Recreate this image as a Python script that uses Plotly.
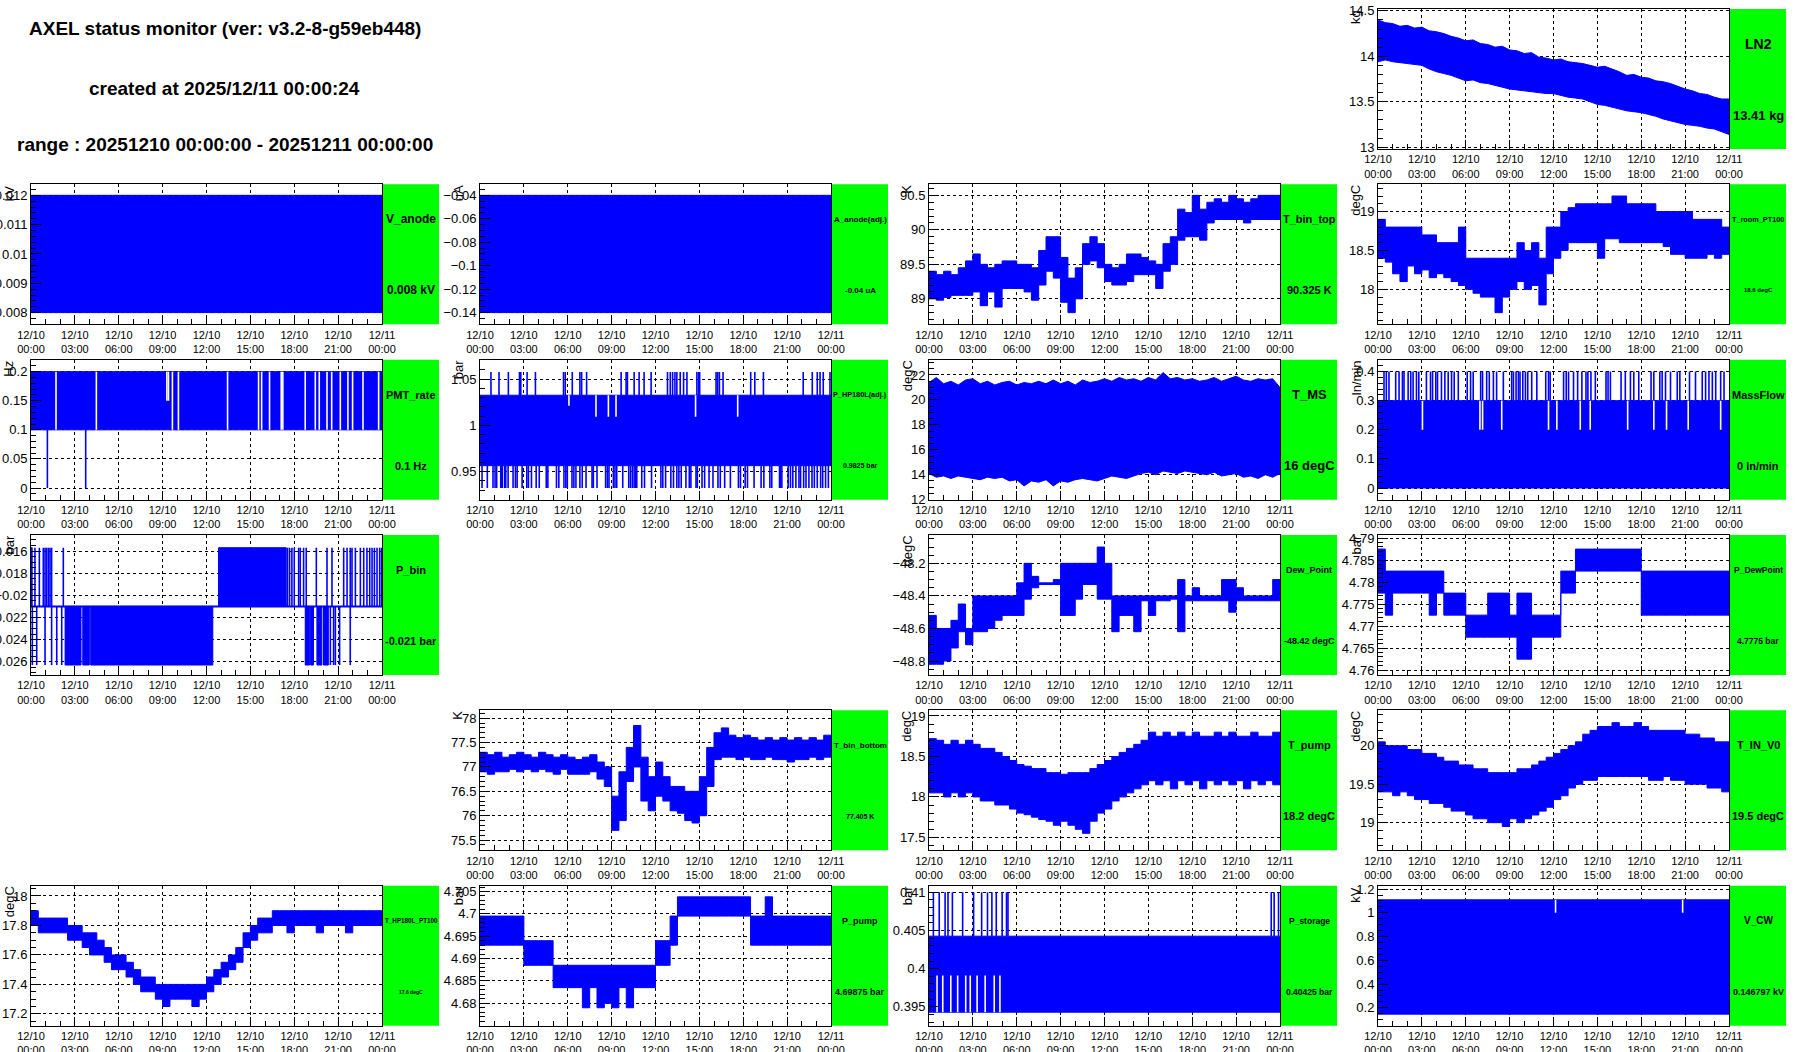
import plotly.graph_objects as go

W, H = 1796, 1052
COL_W = 449
ROW_H = H / 6
BLUE = "#0000ff"
GREEN = "#00ff00"
FONT = "Liberation Sans, Arial, Helvetica, sans-serif"

# ---------------- time axis ----------------
T_HALF = [h / 2 for h in range(49)]
X_TICKS = [0, 3, 6, 9, 12, 15, 18, 21, 24]
X_TICK_LABELS = ["12/10<br>00:00", "12/10<br>03:00", "12/10<br>06:00", "12/10<br>09:00",
                 "12/10<br>12:00", "12/10<br>15:00", "12/10<br>18:00", "12/10<br>21:00",
                 "12/11<br>00:00"]

TITLE_LINES = ["AXEL status monitor (ver: v3.2-8-g59eb448)",
               "created at 2025/12/11 00:00:24",
               "range : 20251210 00:00:00 - 20251211 00:00:00"]

# ---------------- data ----------------
ln2_hi = [14.40, 14.37, 14.36, 14.33, 14.34, 14.31, 14.32, 14.28, 14.27, 14.25,
          14.22, 14.20, 14.17, 14.18, 14.14, 14.13, 14.10, 14.11, 14.07, 14.06,
          14.03, 14.04, 13.99, 13.98, 13.96, 13.97, 13.94, 13.93, 13.92, 13.90,
          13.88, 13.89, 13.86, 13.83, 13.79, 13.80, 13.77, 13.76, 13.73, 13.72,
          13.70, 13.67, 13.64, 13.62, 13.59, 13.58, 13.55, 13.53, 13.53]
ln2_lo = [13.94, 13.96, 13.94, 13.93, 13.92, 13.91, 13.90, 13.86, 13.83, 13.81,
          13.79, 13.76, 13.73, 13.74, 13.71, 13.70, 13.68, 13.66, 13.64, 13.63,
          13.62, 13.61, 13.60, 13.59, 13.59, 13.57, 13.55, 13.54, 13.53, 13.50,
          13.47, 13.46, 13.44, 13.42, 13.40, 13.39, 13.38, 13.36, 13.34, 13.31,
          13.29, 13.27, 13.25, 13.24, 13.23, 13.21, 13.20, 13.17, 13.14]

v_anode_range = [0.008, 0.012]
a_anode_range = [-0.14, -0.04]

tbt_hi = [89.40, 89.35, 89.40, 89.35, 89.45, 89.55, 89.65, 89.50, 89.45, 89.50,
          89.55, 89.55, 89.50, 89.50, 89.45, 89.70, 89.90, 89.90, 89.60, 89.30,
          89.45, 89.80, 89.90, 89.80, 89.50, 89.45, 89.50, 89.65, 89.65, 89.60,
          89.55, 89.50, 89.80, 89.90, 90.30, 90.25, 90.50, 90.30, 90.40, 90.45,
          90.40, 90.50, 90.45, 90.40, 90.45, 90.50, 90.50, 90.50, 90.35]
tbt_lo = [89.00, 88.98, 89.02, 89.05, 89.05, 89.05, 89.10, 88.90, 89.10, 88.88,
          89.15, 89.15, 89.15, 89.10, 88.98, 89.20, 89.40, 89.30, 88.95, 88.80,
          89.00, 89.50, 89.55, 89.45, 89.25, 89.20, 89.20, 89.25, 89.35, 89.35,
          89.35, 89.15, 89.40, 89.50, 89.85, 89.90, 89.90, 89.85, 90.10, 90.15,
          90.15, 90.15, 90.15, 90.10, 90.15, 90.15, 90.15, 90.15, 90.15]

troom_hi = [18.90, 18.80, 18.80, 18.80, 18.80, 18.80, 18.70, 18.70, 18.60, 18.60,
            18.60, 18.80, 18.40, 18.40, 18.40, 18.40, 18.40, 18.40, 18.40, 18.60,
            18.50, 18.60, 18.40, 18.80, 18.80, 19.00, 19.05, 19.10, 19.10, 19.10,
            19.10, 19.10, 19.20, 19.20, 19.10, 19.10, 19.10, 19.10, 19.00, 19.00,
            19.00, 19.00, 19.00, 18.90, 18.90, 18.90, 18.90, 18.80, 18.80]
troom_lo = [18.40, 18.35, 18.20, 18.10, 18.30, 18.20, 18.25, 18.15, 18.20, 18.15,
            18.10, 18.05, 18.00, 17.95, 17.90, 17.90, 17.70, 17.90, 18.00, 18.10,
            18.00, 18.05, 17.80, 18.20, 18.40, 18.50, 18.60, 18.60, 18.60, 18.60,
            18.40, 18.65, 18.65, 18.60, 18.60, 18.60, 18.60, 18.60, 18.60, 18.55,
            18.45, 18.45, 18.40, 18.40, 18.40, 18.45, 18.40, 18.45, 18.45]

pmt_range = [0.1, 0.2]
pmt_gap_times = [1.71, 4.47, 9.67, 10.08, 13.44, 15.56, 15.77, 16.31, 17.11, 17.22,
                 18.75, 19.44, 19.71, 20.24, 20.56, 21.15, 21.67, 21.99, 22.70, 23.77]
pmt_half_gap_times = [9.29, 9.40]
pmt_zero_times = [1.12, 3.74]

php_range = [0.9565, 1.0325]
php_up_level = 1.0575
php_down_level = 0.9325
php_up_times = [0.75, 1.30, 1.94, 2.70, 2.79, 3.22, 3.79, 5.71, 5.83, 6.31, 6.83, 6.95,
                7.29, 9.65, 9.99, 10.08, 10.54, 10.88, 11.22, 11.70, 12.82, 13.01, 13.17,
                13.33, 13.46, 13.69, 13.92, 14.15, 14.83, 14.95, 15.02, 16.14, 16.25,
                16.37, 16.62, 18.51, 18.79, 19.38, 22.10, 22.72, 23.06, 23.25, 23.47, 23.93]
php_down_times = [0.14, 0.50, 0.89, 1.03, 1.14, 1.42, 1.49, 1.53, 1.69, 1.76, 1.92, 2.26,
                  2.42, 2.54, 2.88, 3.20, 3.31, 3.52, 3.84, 4.05, 4.53, 4.64, 5.23, 5.39,
                  5.74, 5.87, 5.97, 6.29, 6.42, 6.56, 6.83, 6.99, 7.25, 7.66, 7.75, 8.00,
                  8.59, 8.71, 8.82, 9.12, 9.23, 9.35, 9.76, 10.17, 10.29, 10.42, 10.54,
                  10.65, 10.72, 11.06, 11.25, 11.73, 12.37, 12.50, 12.69, 13.05, 13.23,
                  13.46, 13.60, 13.76, 14.08, 14.31, 14.42, 14.77, 14.86, 15.18, 15.36,
                  15.66, 15.93, 16.27, 16.43, 16.73, 17.12, 17.67, 17.81, 18.13, 18.29,
                  18.74, 19.22, 19.41, 19.82, 19.95, 20.48, 20.55, 20.64, 21.07, 21.23,
                  21.39, 21.60, 21.81, 21.92, 22.13, 22.29, 22.49, 22.70, 22.86, 23.06,
                  23.29, 23.43, 23.63, 23.82]
php_gap_times = [6.08, 7.93, 8.78, 9.30, 14.74, 17.62]
php_gap_depths = [1.0212, 1.0093, 1.0093, 1.0093, 1.0093, 1.0093]

tms_hi = [21.4, 21.8, 21.3, 21.5, 21.2, 21.6, 21.7, 21.3, 21.5, 21.2,
          21.4, 21.5, 21.2, 21.4, 21.3, 21.5, 21.3, 21.6, 21.3, 21.5,
          21.2, 21.6, 21.4, 21.5, 21.7, 21.5, 21.8, 21.6, 21.7, 21.5,
          21.8, 21.6, 22.2, 21.7, 21.8, 21.6, 21.7, 21.5, 21.6, 21.8,
          21.5, 21.7, 21.9, 21.6, 21.5, 21.7, 21.6, 21.7, 21.0]
tms_lo = [14.1, 13.8, 13.9, 13.7, 13.9, 13.8, 13.7, 13.6, 13.8, 13.7,
          13.8, 13.5, 13.6, 13.1, 13.5, 13.4, 13.6, 13.1, 13.5, 13.4,
          13.6, 13.7, 13.6, 13.5, 13.7, 13.9, 13.8, 13.7, 13.9, 14.1,
          14.2, 14.0, 14.3, 14.2, 14.1, 14.3, 14.2, 14.1, 14.0, 14.2,
          13.9, 14.0, 14.1, 13.8, 13.9, 13.7, 14.0, 13.8, 14.1]

mf_range = [0.0, 0.3]
mf_up_level = 0.4
mf_up_times = [0.41, 0.57, 0.75, 1.21, 1.44, 1.67, 1.78, 2.06, 2.24, 2.40, 2.63, 2.79,
               3.31, 3.59, 3.73, 3.95, 4.07, 4.34, 4.57, 4.80, 5.03, 5.21, 5.49, 6.10,
               6.33, 6.51, 7.02, 7.15, 7.43, 7.61, 7.89, 8.11, 8.57, 9.14, 9.26, 9.44,
               9.60, 9.71, 9.90, 10.08, 10.24, 10.51, 10.86, 11.47, 11.66, 11.77, 12.69,
               12.87, 13.03, 13.37, 13.65, 13.94, 14.22, 14.35, 14.56, 14.86, 15.59,
               15.73, 15.89, 16.62, 16.91, 17.26, 17.49, 17.83, 18.67, 18.86, 19.27,
               19.43, 19.66, 20.00, 20.46, 20.64, 21.30, 21.71, 22.17, 22.40, 22.63,
               22.86, 23.09, 23.43, 23.66]
mf_gap_level = 0.2
mf_gap_times = [3.04, 6.97, 7.15, 8.46, 11.66, 12.23, 13.83, 14.51, 17.07, 18.86, 19.73,
                21.21, 23.43]

pbin_levels = [-0.0263, -0.021, -0.0157]
pbin_up_blocks = [(0.0, 0.08), (12.82, 17.45)]
pbin_up_times = [0.27, 0.57, 0.84, 0.96, 1.07, 1.19, 1.30, 1.41, 2.21, 17.54, 17.68, 17.84,
                 18.00, 18.30, 18.41, 18.64, 18.82, 19.51, 20.24, 20.58, 21.38, 21.61,
                 21.83, 21.95, 22.18, 22.52, 22.75, 22.97, 23.16, 23.32, 23.48, 23.66,
                 23.84, 23.97]
pbin_down_blocks = [(2.33, 3.42), (3.54, 3.99), (4.08, 12.43), (18.75, 19.05),
                    (19.12, 19.32), (19.55, 19.89), (20.00, 20.33)]
pbin_down_times = [0.09, 0.39, 0.96, 1.41, 1.76, 2.10, 20.47, 20.69, 20.81, 21.10, 21.83]

dew_hi = [-48.52, -48.60, -48.60, -48.55, -48.45, -48.60, -48.40, -48.40, -48.40, -48.40,
          -48.40, -48.40, -48.32, -48.20, -48.28, -48.32, -48.32, -48.30, -48.20, -48.20,
          -48.20, -48.20, -48.20, -48.10, -48.20, -48.40, -48.40, -48.40, -48.40, -48.40,
          -48.40, -48.40, -48.40, -48.40, -48.30, -48.40, -48.35, -48.40, -48.40, -48.40,
          -48.30, -48.30, -48.35, -48.40, -48.40, -48.40, -48.40, -48.30, -48.40]
dew_lo = [-48.82, -48.82, -48.80, -48.72, -48.62, -48.70, -48.62, -48.62, -48.60, -48.55,
          -48.52, -48.52, -48.52, -48.42, -48.35, -48.33, -48.33, -48.33, -48.52, -48.52,
          -48.42, -48.33, -48.33, -48.42, -48.42, -48.62, -48.52, -48.52, -48.62, -48.43,
          -48.52, -48.43, -48.43, -48.42, -48.62, -48.43, -48.43, -48.43, -48.43, -48.43,
          -48.43, -48.50, -48.43, -48.43, -48.43, -48.43, -48.43, -48.43, -48.43]

pdew_hi = [4.7875, 4.7825, 4.7825, 4.7825, 4.7825, 4.7825, 4.7825, 4.7825, 4.7825, 4.7775,
           4.7775, 4.7775, 4.7725, 4.7725, 4.7725, 4.7775, 4.7775, 4.7775, 4.7725, 4.7775,
           4.7775, 4.7725, 4.7725, 4.7725, 4.7725, 4.7825, 4.7825, 4.7875, 4.7875, 4.7875,
           4.7875, 4.7875, 4.7875, 4.7875, 4.7875, 4.7875, 4.7825, 4.7825, 4.7825, 4.7825,
           4.7825, 4.7825, 4.7825, 4.7825, 4.7825, 4.7825, 4.7825, 4.7825, 4.7825]
pdew_lo = [4.7775, 4.7725, 4.7775, 4.7775, 4.7775, 4.7775, 4.7775, 4.7725, 4.7775, 4.7725,
           4.7725, 4.7725, 4.7675, 4.7675, 4.7675, 4.7675, 4.7675, 4.7675, 4.7675, 4.7625,
           4.7625, 4.7675, 4.7675, 4.7675, 4.7675, 4.7775, 4.7775, 4.7825, 4.7825, 4.7825,
           4.7825, 4.7825, 4.7825, 4.7825, 4.7825, 4.7825, 4.7725, 4.7725, 4.7725, 4.7725,
           4.7725, 4.7725, 4.7725, 4.7725, 4.7725, 4.7725, 4.7725, 4.7725, 4.7725]

tbb_hi = [77.30, 77.25, 77.30, 77.20, 77.25, 77.30, 77.25, 77.20, 77.30, 77.25,
          77.20, 77.25, 77.20, 77.15, 77.20, 77.25, 77.10, 77.00, 76.40, 76.90,
          77.40, 77.85, 77.20, 76.80, 77.10, 76.80, 76.60, 76.60, 76.50, 76.50,
          76.80, 77.40, 77.70, 77.80, 77.65, 77.60, 77.65, 77.60, 77.55, 77.60,
          77.55, 77.60, 77.55, 77.60, 77.55, 77.60, 77.55, 77.65, 77.55]
tbb_lo = [76.90, 76.85, 76.90, 76.90, 76.95, 76.90, 76.95, 76.90, 76.95, 76.90,
          76.85, 76.95, 76.85, 76.85, 76.85, 76.90, 76.75, 76.60, 75.70, 75.90,
          76.70, 77.00, 76.30, 76.10, 76.40, 76.30, 76.10, 76.05, 75.90, 75.85,
          76.00, 76.60, 77.15, 77.20, 77.20, 77.15, 77.20, 77.15, 77.15, 77.20,
          77.15, 77.15, 77.10, 77.15, 77.15, 77.20, 77.15, 77.20, 77.20]

tpump_hi = [18.72, 18.70, 18.65, 18.70, 18.65, 18.70, 18.65, 18.60, 18.60, 18.55,
            18.50, 18.45, 18.40, 18.38, 18.35, 18.35, 18.30, 18.30, 18.28, 18.30,
            18.30, 18.30, 18.35, 18.40, 18.45, 18.50, 18.55, 18.60, 18.65, 18.70,
            18.80, 18.75, 18.80, 18.75, 18.80, 18.75, 18.80, 18.75, 18.75, 18.80,
            18.75, 18.80, 18.75, 18.75, 18.80, 18.75, 18.75, 18.80, 18.75]
tpump_lo = [18.05, 18.05, 18.00, 18.05, 18.00, 18.05, 18.00, 17.95, 17.95, 17.90,
            17.90, 17.85, 17.80, 17.78, 17.75, 17.72, 17.70, 17.65, 17.70, 17.65,
            17.60, 17.55, 17.70, 17.80, 17.85, 17.95, 18.00, 18.05, 18.10, 18.15,
            18.20, 18.15, 18.20, 18.10, 18.20, 18.15, 18.20, 18.10, 18.20, 18.15,
            18.20, 18.15, 18.20, 18.10, 18.20, 18.15, 18.20, 18.15, 18.20]

tin_hi = [20.05, 20.00, 20.00, 20.00, 19.95, 19.95, 19.90, 19.90, 19.85, 19.80,
          19.80, 19.75, 19.75, 19.70, 19.70, 19.65, 19.65, 19.65, 19.65, 19.70,
          19.70, 19.75, 19.80, 19.85, 19.90, 19.95, 20.00, 20.05, 20.15, 20.20,
          20.25, 20.25, 20.30, 20.25, 20.25, 20.30, 20.25, 20.20, 20.20, 20.20,
          20.20, 20.20, 20.15, 20.15, 20.10, 20.10, 20.05, 20.05, 20.00]
tin_lo = [19.40, 19.40, 19.35, 19.40, 19.35, 19.30, 19.30, 19.25, 19.25, 19.20,
          19.15, 19.15, 19.10, 19.05, 19.05, 19.00, 19.00, 18.95, 19.05, 19.00,
          19.05, 19.10, 19.15, 19.20, 19.30, 19.35, 19.45, 19.50, 19.55, 19.55,
          19.60, 19.60, 19.60, 19.60, 19.60, 19.60, 19.60, 19.55, 19.55, 19.60,
          19.55, 19.55, 19.50, 19.50, 19.50, 19.45, 19.45, 19.40, 19.40]

thp_hi = [17.90, 17.85, 17.85, 17.85, 17.85, 17.80, 17.80, 17.75, 17.75, 17.70,
          17.65, 17.60, 17.60, 17.55, 17.50, 17.45, 17.45, 17.40, 17.40, 17.40,
          17.40, 17.40, 17.40, 17.40, 17.45, 17.50, 17.55, 17.60, 17.65, 17.75,
          17.80, 17.85, 17.85, 17.90, 17.90, 17.90, 17.90, 17.90, 17.90, 17.90,
          17.90, 17.90, 17.90, 17.90, 17.90, 17.90, 17.90, 17.90, 17.90]
thp_lo = [17.80, 17.75, 17.75, 17.75, 17.75, 17.70, 17.70, 17.65, 17.60, 17.60,
          17.55, 17.50, 17.50, 17.45, 17.40, 17.35, 17.35, 17.30, 17.25, 17.30,
          17.30, 17.30, 17.25, 17.30, 17.35, 17.40, 17.45, 17.50, 17.55, 17.65,
          17.70, 17.75, 17.75, 17.80, 17.80, 17.75, 17.80, 17.80, 17.80, 17.75,
          17.80, 17.80, 17.80, 17.75, 17.80, 17.80, 17.80, 17.80, 17.80]

ppump_hi = [4.6995, 4.6995, 4.6995, 4.6995, 4.6995, 4.6995, 4.6940, 4.6940, 4.6940, 4.6940,
            4.6885, 4.6885, 4.6885, 4.6885, 4.6885, 4.6885, 4.6885, 4.6885, 4.6885, 4.6885,
            4.6885, 4.6885, 4.6885, 4.6885, 4.6940, 4.6940, 4.6995, 4.7038, 4.7038, 4.7038,
            4.7038, 4.7038, 4.7038, 4.7038, 4.7038, 4.7038, 4.7038, 4.6995, 4.6995, 4.7038,
            4.6995, 4.6995, 4.6995, 4.6995, 4.6995, 4.6995, 4.6995, 4.6995, 4.6995]
ppump_lo = [4.6930, 4.6930, 4.6930, 4.6930, 4.6930, 4.6930, 4.6885, 4.6885, 4.6885, 4.6885,
            4.6835, 4.6835, 4.6835, 4.6835, 4.6790, 4.6835, 4.6790, 4.6800, 4.6790, 4.6835,
            4.6790, 4.6835, 4.6835, 4.6835, 4.6885, 4.6885, 4.6930, 4.6995, 4.6995, 4.6995,
            4.6995, 4.6995, 4.6995, 4.6995, 4.6995, 4.6995, 4.6995, 4.6930, 4.6930, 4.6930,
            4.6930, 4.6930, 4.6930, 4.6930, 4.6930, 4.6930, 4.6930, 4.6930, 4.6930]

pst_range = [0.3943, 0.40425]
pst_up_level = 0.41
pst_up_times = [0.3, 0.7, 1.1, 1.3, 1.6, 2.3, 3.05, 3.6, 4.0, 4.3, 4.6, 5.0, 5.3, 5.4,
                23.4, 23.6, 23.9]
pst_gap_level = 0.3991
pst_gap_times = [0.55, 0.94, 1.49, 1.96, 2.51, 2.82, 3.29, 3.84, 4.46, 4.85]

vcw_range = [0.147, 1.11]
vcw_notch_level = 1.0
vcw_notch_times = [12.14, 20.83]

# ---------------- figure helpers ----------------
fig = go.Figure()
_panel = [0]


def add_panel(row, col, yr, tv, tt, minor, unit, name, value, nsize, vsize):
    _panel[0] += 1
    n = _panel[0]
    s = "" if n == 1 else str(n)
    x0 = (COL_W * col + 31) / W
    x1 = (COL_W * col + 382) / W
    top = ROW_H * row + 9
    bot = ROW_H * row + 149
    y0 = 1 - bot / H
    y1 = 1 - top / H
    common = dict(showline=True, linecolor="black", linewidth=1, mirror=True,
                  showgrid=True, gridcolor="black", griddash="dot", gridwidth=1,
                  zeroline=False, ticks="inside", tickcolor="black", fixedrange=True,
                  automargin=False, tickmode="array")
    fig.update_layout({
        f"xaxis{s}": dict(common, domain=[x0, x1], range=[0, 24], anchor=f"y{s}",
                          tickvals=X_TICKS, ticktext=X_TICK_LABELS, ticklen=9,
                          tickfont=dict(size=11, color="black", family=FONT),
                          minor=dict(dtick=1, tick0=0, ticks="inside", ticklen=5,
                                     tickcolor="black", showgrid=False)),
        f"yaxis{s}": dict(common, domain=[y0, y1], range=yr, anchor=f"x{s}",
                          tickvals=tv, ticktext=tt, ticklen=10,
                          tickfont=dict(size=13, color="black", family=FONT),
                          minor=dict(dtick=minor, tick0=tv[0], ticks="inside", ticklen=5,
                                     tickcolor="black", showgrid=False)),
    })
    fig.add_shape(type="rect", xref="paper", yref="paper",
                  x0=(COL_W * col + 383) / W, x1=(COL_W * col + 439) / W,
                  y0=y0, y1=y1, fillcolor=GREEN, line_width=0)
    cx = (COL_W * col + 411) / W
    fig.add_annotation(x=cx, y=1 - (ROW_H * row + 44) / H, xref="paper", yref="paper",
                       text=f"<b>{name}</b>", showarrow=False,
                       xanchor="center", yanchor="middle",
                       font=dict(size=nsize, color="black", family=FONT))
    fig.add_annotation(x=cx, y=1 - (ROW_H * row + 115) / H, xref="paper", yref="paper",
                       text=f"<b>{value}</b>", showarrow=False,
                       xanchor="center", yanchor="middle",
                       font=dict(size=vsize, color="black", family=FONT))
    fig.add_annotation(x=(COL_W * col + 9) / W, y=1 - (ROW_H * row + 8) / H,
                       xref="paper", yref="paper", text=unit, textangle=-90,
                       showarrow=False, xanchor="center", yanchor="top",
                       font=dict(size=13, color="black", family=FONT))
    return s


def band(s, t, hi, lo, shape="hv"):
    kw = dict(mode="lines", xaxis="x" + s, yaxis="y" + s, hoverinfo="skip", showlegend=False)
    fig.add_trace(go.Scatter(x=t, y=lo, line=dict(color=BLUE, width=1, shape=shape), **kw))
    fig.add_trace(go.Scatter(x=t, y=hi, line=dict(color=BLUE, width=1, shape=shape),
                             fill="tonexty", fillcolor=BLUE, **kw))


def vlines(s, times, y_from, y_to, color=BLUE, width=1.6):
    xs, ys = [], []
    for i, t in enumerate(times):
        yt = y_to[i] if isinstance(y_to, list) else y_to
        xs += [t, t, None]
        ys += [y_from, yt, None]
    fig.add_trace(go.Scatter(x=xs, y=ys, mode="lines", line=dict(color=color, width=width),
                             xaxis="x" + s, yaxis="y" + s, hoverinfo="skip", showlegend=False))


def blocks(s, spans, y_from, y_to, color=BLUE):
    xs, ys = [], []
    for a, b in spans:
        xs += [a, b, b, a, a, None]
        ys += [y_from, y_from, y_to, y_to, y_from, None]
    fig.add_trace(go.Scatter(x=xs, y=ys, mode="lines", fill="toself", fillcolor=color,
                             line=dict(color=color, width=1),
                             xaxis="x" + s, yaxis="y" + s, hoverinfo="skip", showlegend=False))


FULL_DAY = [(0, 24)]

# ---------------- panels ----------------
s = add_panel(0, 3, [12.98, 14.52], [13, 13.5, 14, 14.5], ["13", "13.5", "14", "14.5"], 0.1,
              "kg", "LN2", "13.41 kg", 14, 13)
band(s, T_HALF, ln2_hi, ln2_lo, shape="linear")

s = add_panel(1, 0, [0.0076, 0.012375], [0.008, 0.009, 0.01, 0.011, 0.012],
              ["0.008", "0.009", "0.01", "0.011", "0.012"], 0.0002,
              "kV", "V_anode", "0.008 kV", 12, 12)
blocks(s, FULL_DAY, v_anode_range[0], v_anode_range[1])

s = add_panel(1, 1, [-0.150, -0.0306], [-0.14, -0.12, -0.1, -0.08, -0.06, -0.04],
              ["\u22120.14", "\u22120.12", "\u22120.1", "\u22120.08", "\u22120.06", "\u22120.04"],
              0.005, "uA", "A_anode(adj.)", "-0.04 uA", 8, 8)
blocks(s, FULL_DAY, a_anode_range[0], a_anode_range[1])

s = add_panel(1, 2, [88.63, 90.66], [89, 89.5, 90, 90.5], ["89", "89.5", "90", "90.5"], 0.1,
              "K", "T_bin_top", "90.325 K", 11, 11)
band(s, T_HALF, tbt_hi, tbt_lo)

s = add_panel(1, 3, [17.55, 19.35], [18, 18.5, 19], ["18", "18.5", "19"], 0.1,
              "degC", "T_room_PT100", "18.6 degC", 7.3, 6)
band(s, T_HALF, troom_hi, troom_lo)

s = add_panel(2, 0, [-0.020, 0.2206], [0, 0.05, 0.1, 0.15, 0.2],
              ["0", "0.05", "0.1", "0.15", "0.2"], 0.01, "Hz", "PMT_rate", "0.1 Hz", 11, 11)
blocks(s, FULL_DAY, pmt_range[0], pmt_range[1])
vlines(s, pmt_gap_times, pmt_range[0], pmt_range[1], color="white", width=1.6)
vlines(s, pmt_half_gap_times, 0.15, pmt_range[1], color="white", width=1.6)
vlines(s, pmt_zero_times, 0.0, pmt_range[0])

s = add_panel(2, 1, [0.9198, 1.0709], [0.95, 1, 1.05], ["0.95", "1", "1.05"], 0.01,
              "bar", "P_HP180L(adj.)", "0.9825 bar", 7.3, 7)
blocks(s, FULL_DAY, php_range[0], php_range[1])
vlines(s, php_up_times, php_range[1], php_up_level)
vlines(s, php_down_times, php_range[0], php_down_level)
vlines(s, php_gap_times, php_range[1], php_gap_depths, color="white", width=1.6)

s = add_panel(2, 2, [12, 23.23], [12, 14, 16, 18, 20, 22], ["12", "14", "16", "18", "20", "22"],
              0.5, "degC", "T_MS", "16 degC", 13, 13)
band(s, T_HALF, tms_hi, tms_lo, shape="linear")

s = add_panel(2, 3, [-0.040, 0.441], [0, 0.1, 0.2, 0.3, 0.4], ["0", "0.1", "0.2", "0.3", "0.4"],
              0.02, "ln/min", "MassFlow", "0 ln/min", 11, 11)
blocks(s, FULL_DAY, mf_range[0], mf_range[1])
vlines(s, mf_up_times, mf_range[1], mf_up_level)
vlines(s, mf_gap_times, mf_range[1], mf_gap_level, color="white", width=1.6)

s = add_panel(3, 0, [-0.0272, -0.01455], [-0.026, -0.024, -0.022, -0.02, -0.018, -0.016],
              ["\u22120.026", "\u22120.024", "\u22120.022", "\u22120.02", "\u22120.018", "\u22120.016"],
              0.0005, "bar", "P_bin", "-0.021 bar", 11, 11)
blocks(s, pbin_up_blocks, pbin_levels[1], pbin_levels[2])
blocks(s, pbin_down_blocks, pbin_levels[0], pbin_levels[1])
vlines(s, pbin_up_times, pbin_levels[1], pbin_levels[2])
vlines(s, pbin_down_times, pbin_levels[0], pbin_levels[1])
fig.add_trace(go.Scatter(x=[0, 24], y=[pbin_levels[1], pbin_levels[1]], mode="lines",
                         line=dict(color=BLUE, width=2), xaxis="x" + s, yaxis="y" + s,
                         hoverinfo="skip", showlegend=False))

s = add_panel(3, 2, [-48.886, -48.026], [-48.8, -48.6, -48.4, -48.2],
              ["\u221248.8", "\u221248.6", "\u221248.4", "\u221248.2"], 0.05,
              "degC", "Dew_Point", "-48.42 degC", 9, 9)
band(s, T_HALF, dew_hi, dew_lo)

s = add_panel(3, 3, [4.7589, 4.7907], [4.76, 4.765, 4.77, 4.775, 4.78, 4.785, 4.79],
              ["4.76", "4.765", "4.77", "4.775", "4.78", "4.785", "4.79"], 0.001,
              "bar", "P_DewPoint", "4.7775 bar", 8.5, 8.5)
band(s, T_HALF, pdew_hi, pdew_lo)

s = add_panel(4, 1, [75.29, 78.16], [75.5, 76, 76.5, 77, 77.5, 78],
              ["75.5", "76", "76.5", "77", "77.5", "78"], 0.1,
              "K", "T_bin_bottom", "77.405 K", 8, 7)
band(s, T_HALF, tbb_hi, tbb_lo)

s = add_panel(4, 2, [17.34, 19.07], [17.5, 18, 18.5, 19], ["17.5", "18", "18.5", "19"], 0.1,
              "degC", "T_pump", "18.2 degC", 11, 11)
band(s, T_HALF, tpump_hi, tpump_lo)

s = add_panel(4, 3, [18.64, 20.46], [19, 19.5, 20], ["19", "19.5", "20"], 0.1,
              "degC", "T_IN_V0", "19.5 degC", 11, 11)
band(s, T_HALF, tin_hi, tin_lo)

s = add_panel(5, 0, [17.12, 18.07], [17.2, 17.4, 17.6, 17.8, 18],
              ["17.2", "17.4", "17.6", "17.8", "18"], 0.05,
              "degC", "T_HP180L_PT100", "17.6 degC", 6.3, 5)
band(s, T_HALF, thp_hi, thp_lo)

s = add_panel(5, 1, [4.675, 4.7063], [4.68, 4.685, 4.69, 4.695, 4.7, 4.705],
              ["4.68", "4.685", "4.69", "4.695", "4.7", "4.705"], 0.001,
              "bar", "P_pump", "4.69875 bar", 9, 9)
band(s, T_HALF, ppump_hi, ppump_lo)

s = add_panel(5, 2, [0.39254, 0.41086], [0.395, 0.4, 0.405, 0.41],
              ["0.395", "0.4", "0.405", "0.41"], 0.001,
              "bar", "P_storage", "0.40425 bar", 8.5, 8.5)
blocks(s, FULL_DAY, pst_range[0], pst_range[1])
vlines(s, pst_up_times, pst_range[1], pst_up_level)
vlines(s, pst_gap_times, pst_range[0], pst_gap_level, color="white", width=1.6)

s = add_panel(5, 3, [0.05, 1.229], [0.2, 0.4, 0.6, 0.8, 1, 1.2],
              ["0.2", "0.4", "0.6", "0.8", "1", "1.2"], 0.05,
              "kV", "V_CW", "0.146797 kV", 10, 9)
blocks(s, FULL_DAY, vcw_range[0], vcw_range[1])
vlines(s, vcw_notch_times, vcw_range[1], vcw_notch_level, color="white", width=1.6)

# ---------------- header text ----------------
for txt, yc in zip(TITLE_LINES, [28, 88, 144]):
    fig.add_annotation(x=224.5 / W, y=1 - yc / H, xref="paper", yref="paper",
                       text=f"<b>{txt}</b>", showarrow=False,
                       xanchor="center", yanchor="middle",
                       font=dict(size=19, color="black", family=FONT))

fig.update_layout(width=W, height=H, margin=dict(l=0, r=0, t=0, b=0),
                  paper_bgcolor="white", plot_bgcolor="white", showlegend=False,
                  font=dict(family=FONT, color="black"))

fig.write_html("out.html", config={"displayModeBar": False},
               post_script="document.body.style.margin='0';")
